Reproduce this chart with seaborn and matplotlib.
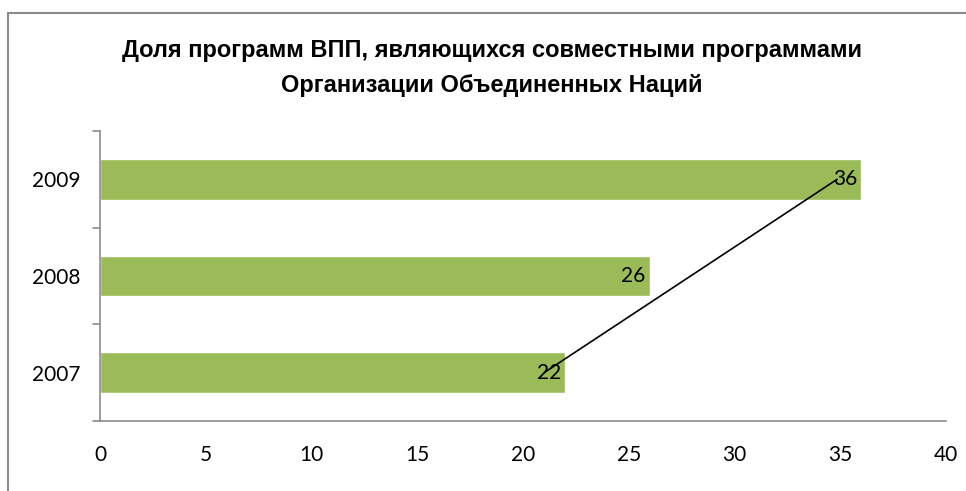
import matplotlib
matplotlib.use("Agg")
import matplotlib.pyplot as plt
import seaborn as sns
import pandas as pd
from matplotlib.patches import Rectangle

years = ["2009", "2008", "2007"]
values = [36, 26, 22]
connector_x = [21.0, 34.85]
connector_y = ["2007", "2009"]
x_ticks = [0, 5, 10, 15, 20, 25, 30, 35, 40]
title = "Доля программ ВПП, являющихся совместными программами\nОрганизации Объединенных Наций"

sns.set_theme(style="white")
plt.rcParams['font.family'] = ['Lato', 'DejaVu Sans']
plt.rcParams['text.color'] = 'black'
plt.rcParams['xtick.color'] = 'black'
plt.rcParams['ytick.color'] = 'black'

df = pd.DataFrame({"year": years, "value": values})

fig = plt.figure(figsize=(9.66, 4.91), dpi=100)
W, H = 966, 491
ax = fig.add_axes([100 / W, 70 / H, 846 / W, 290 / H])

sns.barplot(data=df, x="value", y="year", orient="h", color="#9BBB59",
            saturation=1, width=0.42, ax=ax)

ax.set_xlim(0, 40)
ax.set_ylim(2.5, -0.5)
ax.set_xticks(x_ticks)
ax.set_xticklabels([str(t) for t in x_ticks], fontsize=15, color="black")
ax.tick_params(axis="x", length=0, pad=17)
ax.tick_params(axis="y", length=0, pad=14, labelsize=15, labelcolor="black")
ax.set_xlabel("")
ax.set_ylabel("")

for s in ["top", "right"]:
    ax.spines[s].set_visible(False)
for s in ["left", "bottom"]:
    ax.spines[s].set_color("#8c8c8c")
    ax.spines[s].set_linewidth(1.2)

# y-axis category boundary ticks
for yb in [-0.5, 0.5, 1.5, 2.5]:
    ax.plot([-0.35, 0], [yb, yb], color="#8c8c8c", lw=1.2, clip_on=False,
            transform=ax.transData)

for i, v in enumerate(values):
    ax.text(v - 0.2, i, str(v), ha="right", va="center", fontsize=15, color="black")

yidx = [years.index(y) for y in connector_y]
ax.plot(connector_x, yidx, color="black", lw=1.2)

fig.text(492 / W, 1 - 68 / H, title, ha="center", va="center", fontsize=17,
         fontweight="bold", family=["Liberation Sans", "DejaVu Sans"],
         linespacing=1.62, color="black")

fig.add_artist(Rectangle((8 / W, -0.1), 1.2, 1 - 12.5 / H + 0.1, transform=fig.transFigure,
                         fill=False, edgecolor="#8c8c8c", lw=1.5))

fig.savefig("out.png", dpi=100)
